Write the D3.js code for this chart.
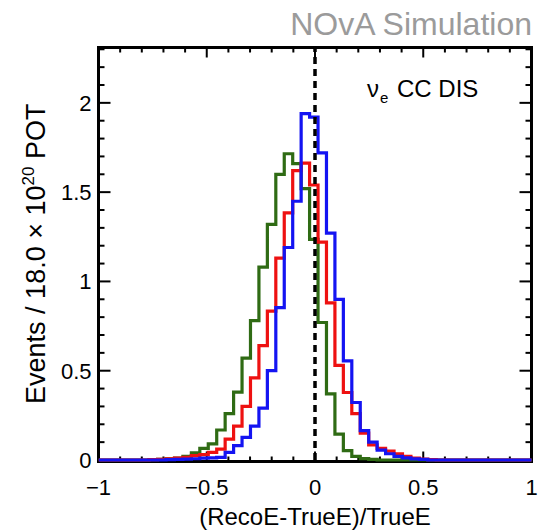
<!DOCTYPE html>
<html><head><meta charset="utf-8">
<script src="https://cdn.jsdelivr.net/npm/d3@7"></script>
<style>
body{margin:0;background:#fff}
svg{display:block}
text{font-family:"Liberation Sans",Arial,Helvetica,sans-serif}
</style>
</head><body>
<svg id="chart" width="540" height="531"></svg>
<script>
// ---- data ----
const binStart = -1;
const binWidth = 0.039;
const greenCounts = [
  0,0,0,0,0,0,
  0.002,0.004,0.006,0.01,
  0.02,0.04,0.065,0.09,0.168,
  0.26,0.38,0.57,0.78,1.08,
  1.32,1.60,1.715,1.66,1.52,
  1.235,0.77,0.37,0.145,0.052,
  0.02,0.008,0.003,0,0,
  0,0,0,0,0,0,0,0,0,0,0,0,0,0,0,0,0
];
const redCounts = [
  0,0,0,0,0,0,
  0.002,0.004,0.006,0.01,
  0.015,0.025,0.03,0.043,0.061,
  0.117,0.19,0.30,0.46,0.64,
  0.834,1.13,1.384,1.62,1.663,
  1.54,1.22,0.88,0.53,0.378,
  0.26,0.15,0.085,0.065,0.05,
  0.035,0.02,0.01,0.005,0.002,
  0,0,0,0,0,0,0,0,0,0,0,0
];
const blueCounts = [
  0,0,0,0,0,0,0,0,
  0.002,0.003,
  0.005,0.007,0.01,0.012,0.015,
  0.043,0.08,0.127,0.19,0.29,
  0.5,0.853,1.19,1.449,1.94,
  1.92,1.72,1.27,0.9,0.555,
  0.322,0.164,0.1,0.055,0.035,
  0.02,0.012,0.006,0.003,0,
  0,0,0,0,0,0,0,0,0,0,0,0
];
const seriesNames = ["green","red","blue"];
const seriesColors = ["#2f6b14","#ee1111","#1414f2"];
const xDomain = [-1, 1];
const yDomain = [0, 2.31];
const xMajorTicks = [-1, -0.5, 0, 0.5, 1];
const yMajorTicks = [0, 0.5, 1, 1.5, 2];
const xMinorTicks = [-0.9,-0.8,-0.7,-0.6,-0.4,-0.3,-0.2,-0.1,0.1,0.2,0.3,0.4,0.6,0.7,0.8,0.9];
const yMinorTicks = [0.1,0.2,0.3,0.4,0.6,0.7,0.8,0.9,1.1,1.2,1.3,1.4,1.6,1.7,1.8,1.9,2.1,2.2,2.3];
const refLineX = 0;
const xTitle = "(RecoE-TrueE)/TrueE";
const headerText = "NOvA Simulation";
const sampleLabel = "CC DIS";

// ---- layout ----
const svg = d3.select("#chart");
const x = d3.scaleLinear().domain(xDomain).range([98.5, 531.5]);
const y = d3.scaleLinear().domain(yDomain).range([460, 47.5]);
const x0 = x.range()[0], x1 = x.range()[1];
const yTop = y.range()[1], yBot = y.range()[0];
const frameBottom = yBot + 1.5;

// frame
svg.append("rect")
  .attr("x", x0).attr("y", yTop)
  .attr("width", x1 - x0).attr("height", frameBottom - yTop)
  .attr("fill", "none").attr("stroke", "#000").attr("stroke-width", 3);

// ticks
const tickG = svg.append("g").attr("stroke", "#000").attr("stroke-width", 2);
function xTicks(vals, len){
  vals.forEach(v=>{
    tickG.append("line").attr("x1",x(v)).attr("x2",x(v)).attr("y1",frameBottom).attr("y2",frameBottom-len);
    tickG.append("line").attr("x1",x(v)).attr("x2",x(v)).attr("y1",yTop).attr("y2",yTop+len);
  });
}
function yTicks(vals, len){
  vals.forEach(v=>{
    tickG.append("line").attr("x1",x0).attr("x2",x0+len).attr("y1",y(v)).attr("y2",y(v));
    tickG.append("line").attr("x1",x1).attr("x2",x1-len).attr("y1",y(v)).attr("y2",y(v));
  });
}
xTicks(xMajorTicks, 10); xTicks(xMinorTicks, 5);
yTicks(yMajorTicks, 12); yTicks(yMinorTicks, 6);

// tick labels
const fmt = d3.format("~g");
svg.append("g").selectAll("text").data(xMajorTicks).join("text")
  .attr("x", d=>x(d)).attr("y", 495)
  .attr("text-anchor","middle").attr("font-size",22).attr("fill","#000")
  .text(d=>fmt(d));
svg.append("g").selectAll("text").data(yMajorTicks).join("text")
  .attr("x", x0-7).attr("y", d=>y(d)).attr("dy","0.36em")
  .attr("text-anchor","end").attr("font-size",22).attr("fill","#000")
  .text(d=>fmt(d));

// axis titles
svg.append("text").attr("x", (x0+x1)/2).attr("y", 525)
  .attr("text-anchor","middle").attr("font-size",24).attr("fill","#000").text(xTitle);
const yt = svg.append("text")
  .attr("transform", `translate(45,${(yTop+yBot)/2}) rotate(-90)`)
  .attr("text-anchor","middle").attr("font-size",27).attr("fill","#000");
yt.append("tspan").text("Events / 18.0 \u00d7 10");
yt.append("tspan").attr("font-size",17).attr("dy",-11).text("20");
yt.append("tspan").attr("dy",11).text(" POT");

// header
svg.append("text").attr("x", 532).attr("y", 35)
  .attr("text-anchor","end").attr("font-size",32).attr("fill","#9b9b9b").text(headerText);

// sample label
const sl = svg.append("text").attr("x", 367).attr("y", 97).attr("font-size",24).attr("fill","#000");
sl.append("tspan").text("\u03bd");
sl.append("tspan").attr("font-size",15).attr("dy",6).attr("dx",1).text("e");
sl.append("tspan").attr("dy",-6).attr("dx",2).text(" " + sampleLabel);

// histograms
svg.append("clipPath").attr("id","clip").append("rect")
  .attr("x", x0).attr("y", 0).attr("width", x1-x0).attr("height", 531);
const line = d3.line().x(d=>x(d[0])).y(d=>y(d[1])).curve(d3.curveStepAfter);
const allCounts = [greenCounts, redCounts, blueCounts];
const histG = svg.append("g").attr("clip-path","url(#clip)");
allCounts.forEach((counts, i)=>{
  const pts = counts.map((v,k)=>[binStart + k*binWidth, v]);
  pts.push([binStart + counts.length*binWidth, counts[counts.length-1]]);
  histG.append("path").datum(pts)
    .attr("d", line).attr("fill","none")
    .attr("stroke", seriesColors[i]).attr("stroke-width", 3.2)
    .attr("stroke-linejoin","miter").attr("class", seriesNames[i]);
});

// dashed reference line
svg.append("line")
  .attr("x1", x(refLineX)).attr("x2", x(refLineX))
  .attr("y1", yBot).attr("y2", yTop)
  .attr("stroke","#000").attr("stroke-width",3.5).attr("stroke-dasharray","7,5");
</script>
</body></html>
